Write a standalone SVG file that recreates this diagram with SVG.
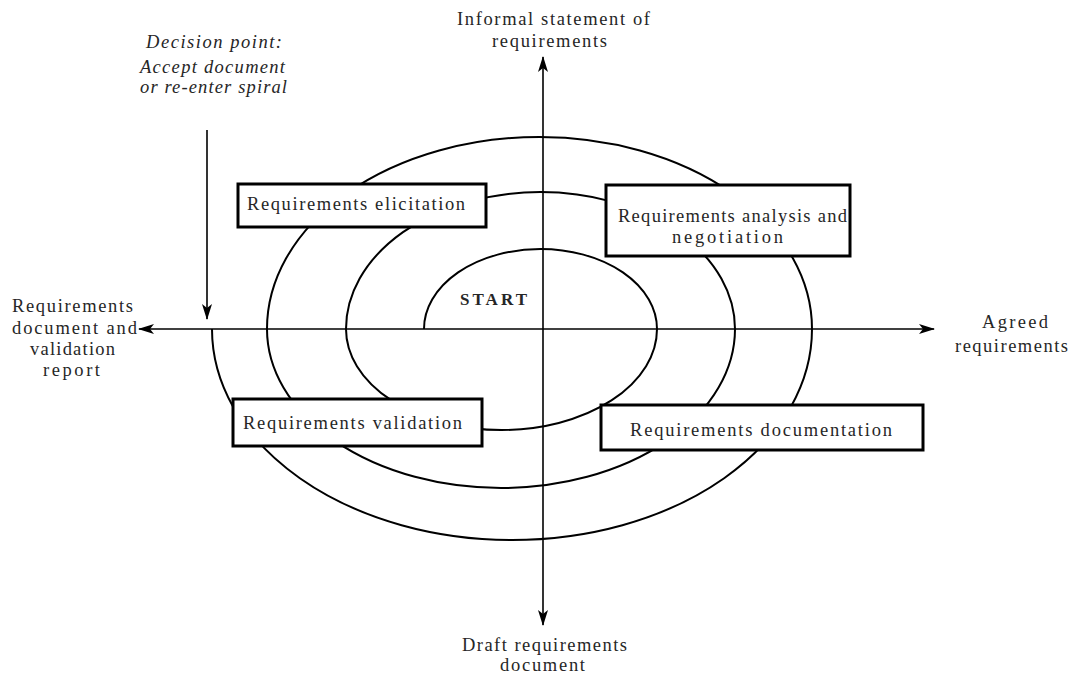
<svg xmlns="http://www.w3.org/2000/svg" width="1075" height="679" viewBox="0 0 1075 679">
<style>
text{font-family:"Liberation Serif","Times New Roman",serif;font-size:18.5px;fill:#262626}
.it{font-style:italic}
.b{font-weight:bold}
.box{fill:#fff;stroke:#000;stroke-width:3}
.axis{stroke:#000;stroke-width:1.6;fill:none}
.spiral{stroke:#000;stroke-width:2;fill:none}
</style>
<defs>
<marker id="ah" viewBox="0 0 16 10" refX="15" refY="5" markerWidth="16" markerHeight="10" markerUnits="userSpaceOnUse" orient="auto">
<path d="M0,0 L16,5 L0,10 L4,5 Z" fill="#000"/>
</marker>
</defs>
<rect width="1075" height="679" fill="#fff"/>
<g id="connectors">
<path id="spiral" class="spiral" d="M424,329 A116.5,80 0 0 1 657,329 A155.5,101 0 0 1 346,329 A194.5,137 0 0 1 735,329 A234,159 0 0 1 267,329 A272.5,192 0 0 1 812,329 A300,211 0 0 1 212,329"/>
<line class="axis" x1="543" y1="329" x2="139" y2="329" marker-end="url(#ah)"/>
<line class="axis" x1="543" y1="329" x2="934" y2="329" marker-end="url(#ah)"/>
<line class="axis" x1="543" y1="329" x2="543" y2="57" marker-end="url(#ah)"/>
<line class="axis" x1="543" y1="329" x2="543" y2="625" marker-end="url(#ah)"/>
<line class="axis" x1="207" y1="130" x2="207" y2="319" marker-end="url(#ah)"/>
</g>
<g id="elicitation">
<rect class="box" x="238" y="184" width="248" height="43"/>
<text x="247" y="210" textLength="218" lengthAdjust="spacing">Requirements elicitation</text>
</g>
<g id="analysis">
<rect class="box" x="606" y="185" width="244" height="71"/>
<text x="618" y="222" textLength="229" lengthAdjust="spacing">Requirements analysis and</text>
<text x="672" y="243" textLength="111" lengthAdjust="spacing">negotiation</text>
</g>
<g id="validation">
<rect class="box" x="233" y="399" width="249" height="47"/>
<text x="243" y="429" textLength="219" lengthAdjust="spacing">Requirements validation</text>
</g>
<g id="documentation">
<rect class="box" x="601" y="405" width="322" height="45"/>
<text x="630" y="436" textLength="262" lengthAdjust="spacing">Requirements documentation</text>
</g>
<g id="start">
<text class="b" x="460" y="305" textLength="67" lengthAdjust="spacing" style="font-size:17px">START</text>
</g>
<g id="label-decision">
<text class="it" x="146" y="48" textLength="136" lengthAdjust="spacing">Decision point:</text>
<text class="it" x="140" y="73" textLength="145" lengthAdjust="spacing">Accept document</text>
<text class="it" x="140" y="93" textLength="147" lengthAdjust="spacing">or re-enter spiral</text>
</g>
<g id="label-informal">
<text x="457" y="25" textLength="193" lengthAdjust="spacing">Informal statement of</text>
<text x="492" y="47" textLength="115" lengthAdjust="spacing">requirements</text>
</g>
<g id="label-agreed">
<text x="982" y="328" textLength="66" lengthAdjust="spacing">Agreed</text>
<text x="955" y="352" textLength="113" lengthAdjust="spacing">requirements</text>
</g>
<g id="label-draft">
<text x="462" y="651" textLength="165" lengthAdjust="spacing">Draft requirements</text>
<text x="500" y="671" textLength="85" lengthAdjust="spacing">document</text>
</g>
<g id="label-document">
<text x="12" y="312" textLength="121" lengthAdjust="spacing">Requirements</text>
<text x="12" y="334" textLength="125" lengthAdjust="spacing">document and</text>
<text x="30" y="355" textLength="85" lengthAdjust="spacing">validation</text>
<text x="43" y="376" textLength="57" lengthAdjust="spacing">report</text>
</g>
</svg>
